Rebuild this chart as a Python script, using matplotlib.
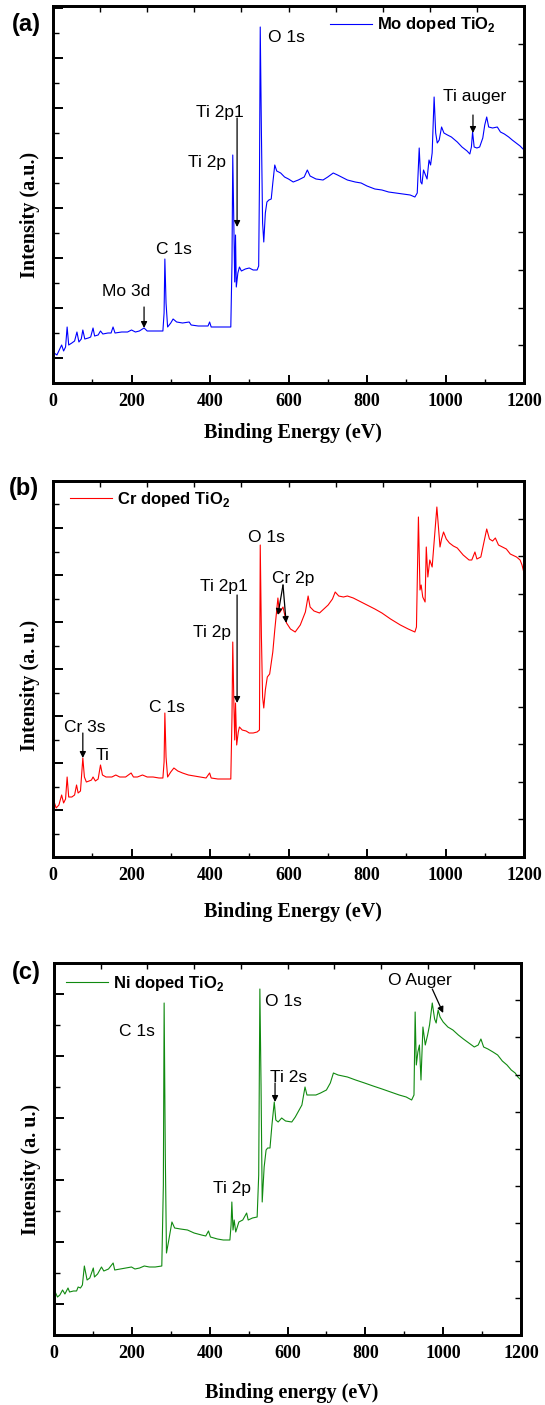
import matplotlib
matplotlib.use('Agg')
import matplotlib.pyplot as plt

plt.rcParams['mathtext.fontset'] = 'custom'
plt.rcParams['mathtext.rm'] = 'Liberation Sans'
plt.rcParams['mathtext.bf'] = 'Liberation Sans:bold'

# Survey spectra (binding energy in eV, intensity in a.u.)
mo_energy = [0, 3, 10, 16, 22, 27, 32, 36, 40, 48, 55, 61, 66, 72, 76, 81, 90, 96, 102, 106,
             115, 121, 127, 140, 148, 153, 158, 175, 190, 200, 210, 220, 232, 240, 255, 270, 280,
             283, 285, 288, 292, 300, 306, 315, 330, 347, 352, 370, 385, 395, 399, 403, 420, 440,
             453, 456, 458, 461, 463, 465, 467, 471, 475, 480, 490, 500, 510, 520, 524, 526, 528,
             531, 534, 537, 541, 545, 550, 556, 560, 565, 570, 580, 590, 600, 612, 625, 640, 648,
             655, 670, 688, 700, 714, 725, 740, 750, 770, 785, 800, 820, 838, 855, 873, 890, 910,
             922, 928, 933, 937, 940, 944, 949, 953, 958, 962, 966, 971, 975, 979, 984, 990, 996,
             1005, 1015, 1030, 1042, 1055, 1062, 1066, 1069, 1073, 1080, 1087, 1095, 1100, 1105,
             1110, 1120, 1132, 1140, 1150, 1161, 1170, 1180, 1190, 1200]
mo_counts = [33, 30, 28, 33, 38, 32, 36, 56, 38, 40, 42, 51, 41, 44, 53, 44, 45, 46, 55, 47,
             48, 52, 49, 50, 50, 56, 50, 51, 51, 53, 51, 52, 55, 52, 52, 52, 52,
             70, 124, 80, 56, 60, 64, 61, 60, 61, 58, 57, 57, 57, 61, 56, 56, 56,
             56, 120, 228, 150, 101, 148, 96, 110, 116, 112, 114, 115, 113, 113, 117, 200, 356,
             250, 160, 141, 170, 181, 183, 184, 200, 218, 212, 210, 206, 204, 201, 203, 206, 213,
             207, 204, 203, 206, 210, 208, 205, 203, 201, 200, 197, 194, 193, 191, 190, 189, 188,
             186, 190, 235, 201, 199, 213, 208, 204, 223, 218, 230, 286, 250, 240, 243, 256, 250,
             248, 246, 241, 236, 232, 229, 236, 251, 236, 235, 236, 245, 258, 266,
             256, 255, 256, 251, 249, 246, 243, 240, 237, 233]

cr_energy = [0, 3, 8, 15, 22, 27, 32, 36, 40, 48, 55, 60, 64, 70, 76, 80, 85, 92, 98, 102,
             108, 115, 121, 126, 135, 150, 160, 170, 185, 199, 205, 215, 228, 240, 255, 270, 280,
             283, 285, 288, 292, 300, 308, 318, 330, 345, 360, 375, 390, 399, 403, 420, 440, 453,
             456, 458, 461, 463, 465, 468, 472, 475, 482, 492, 500, 510, 520, 526, 528, 531, 534,
             537, 541, 546, 552, 560, 565, 573, 577, 586, 595, 605, 617, 630, 643, 650, 655, 665,
             679, 690, 701, 712, 719, 728, 740, 750, 765, 780, 800, 820, 838, 860, 885, 905, 922,
             926, 931, 935, 938, 942, 948, 951, 955, 960, 966, 972, 978, 982, 986, 990, 995, 1002,
             1010, 1020, 1030, 1045, 1060, 1067, 1075, 1080, 1090, 1098, 1105, 1112, 1120, 1127,
             1135, 1145, 1155, 1165, 1181, 1190, 1195, 1200]
cr_counts = [65, 55, 49, 52, 62, 54, 58, 80, 60, 60, 62, 72, 64, 66, 99, 80, 75, 76, 77, 80,
             76, 78, 92, 82, 80, 80, 82, 80, 80, 84, 80, 80, 82, 80, 80, 79, 79,
             95, 144, 100, 80, 85, 89, 86, 84, 82, 81, 80, 79, 84, 79, 78, 78, 78,
             140, 215, 150, 117, 154, 112, 125, 130, 127, 126, 124, 124, 125, 127, 312, 220, 160,
             149, 167, 180, 183, 205, 227, 259, 244, 250, 234, 228, 225, 232, 245, 261, 250, 246,
             244, 248, 252, 258, 265, 261, 260, 261, 259, 256, 252, 248, 244, 238, 232, 228, 225,
             230, 340, 267, 272, 260, 255, 310, 280, 297, 290, 320, 350, 330, 310, 318, 325, 318,
             314, 311, 309, 302, 297, 297, 305, 298, 300, 315, 328, 318, 316, 319,
             312, 310, 308, 303, 300, 297, 292, 284]

ni_energy = [3, 9, 15, 22, 28, 36, 40, 50, 58, 62, 68, 73, 78, 85, 92, 101, 104, 112, 122, 128,
             140, 152, 156, 170, 185, 199, 208, 220, 232, 245, 260, 277, 281, 283, 286, 289, 295,
             303, 310, 325, 343, 360, 379, 390, 397, 402, 420, 435, 446, 452, 455, 457, 460, 463,
             467, 475, 485, 495, 499, 510, 522, 526, 529, 532, 535, 540, 545, 549, 555, 560, 566,
             570, 576, 585, 595, 611, 620, 630, 637, 645, 650, 660, 673, 685, 700, 710, 718, 730,
             754, 775, 798, 820, 843, 865, 887, 905, 919, 925, 928, 931, 935, 939, 943, 948, 954,
             960, 965, 972, 978, 982, 987, 992, 1000, 1012, 1025, 1039, 1052, 1066, 1080, 1090,
             1097, 1104, 1115, 1128, 1140, 1152, 1164, 1175, 1185, 1192, 1200]
ni_counts = [43, 38, 40, 45, 41, 47, 43, 44, 44, 48, 47, 50, 69, 55, 57, 67, 58, 61, 68, 64,
             66, 72, 65, 66, 67, 68, 66, 67, 69, 68, 68, 69, 150, 332, 180, 82, 95,
             113, 107, 106, 105, 102, 100, 99, 104, 98, 96, 95, 95, 95, 110, 133, 105, 115,
             103, 113, 115, 122, 115, 117, 118, 160, 346, 250, 133, 168, 185, 187, 187, 210, 233,
             215, 213, 217, 214, 213, 218, 225, 230, 248, 240, 240, 240, 242, 245, 252, 262, 260,
             258, 255, 252, 249, 246, 243, 240, 238, 235, 240, 323, 270, 283, 290, 255, 308, 290,
             300, 310, 332, 316, 312, 325, 318, 313, 308, 305, 300, 296, 292, 288, 290,
             296, 288, 286, 283, 280, 274, 270, 265, 262, 258, 255]

xticks = [0, 200, 400, 600, 800, 1000, 1200]

serif = 'Liberation Serif'
sans = 'Liberation Sans'
ann_size = 12.5

fig = plt.figure(figsize=(5.45, 14.05), dpi=100)


def make_panel(rect, energy, counts, color, ymax, major, minor, label, xlabel, ylabel,
               leg_anchor, ylab_y, xlab_y, letter, letter_xy):
    ax = fig.add_axes(rect)
    ax.plot(energy, counts, color=color, lw=0.8, label=label)
    ax.set_xlim(0, 1200)
    ax.set_ylim(0, ymax)
    ax.set_xticks(xticks)
    ax.set_xticks(range(100, 1200, 200), minor=True)
    ax.set_yticks(major)
    ax.set_yticks(minor, minor=True)
    ax.set_yticklabels([])
    ax.tick_params(axis='x', which='major', direction='in', length=6, width=1.4, pad=7,
                   top=False)
    ax.tick_params(axis='x', which='minor', direction='in', length=3, width=1.0, top=False)
    ax.tick_params(axis='y', which='major', direction='in', length=7, width=1.4, right=False)
    ax.tick_params(axis='y', which='minor', direction='in', length=4, width=1.0, right=False)
    for lab in ax.get_xticklabels():
        lab.set_fontfamily(serif)
        lab.set_fontweight('bold')
        lab.set_fontsize(13)
    for sp in ax.spines.values():
        sp.set_linewidth(1.8)

    # right and top axes carry their own tick spacing
    axr = ax.twinx()
    axr.set_ylim(0, 10)
    axr.set_yticks(range(1, 10))
    axr.set_yticklabels([])
    axr.tick_params(direction='in', length=4, width=1.0)
    axt = ax.twiny()
    axt.set_xlim(0, 10)
    axt.set_xticks(range(1, 10))
    axt.set_xticklabels([])
    axt.tick_params(direction='in', length=4, width=1.0)
    for a in (axr, axt):
        for sp in a.spines.values():
            sp.set_linewidth(1.8)

    ax.set_xlabel(xlabel, fontfamily=serif, fontweight='bold', fontsize=14.5, va='top')
    ax.xaxis.set_label_coords(0.51, xlab_y)
    ax.set_ylabel(ylabel, fontfamily=serif, fontweight='bold', fontsize=14.5)
    ax.yaxis.set_label_coords(-0.028, ylab_y)

    ax.legend(loc='center left', bbox_to_anchor=leg_anchor, frameon=False, borderpad=0,
              borderaxespad=0, handlelength=2.5, handletextpad=0.3,
              prop={'family': sans, 'weight': 'bold', 'size': 12})
    fig.text(letter_xy[0], letter_xy[1], letter, fontfamily=sans, fontweight='bold',
             fontsize=17, ha='center', va='center')
    return ax


def note(ax, s, x, y):
    ax.text(x, y, s, fontfamily=sans, fontsize=ann_size, ha='center', va='center')


def arrow(ax, start, end):
    ax.annotate('', xy=end, xytext=start,
                arrowprops=dict(arrowstyle='-|>', color='k', lw=0.9, mutation_scale=9,
                                shrinkA=0, shrinkB=0))


# (a) Mo doped TiO2
axa = make_panel([53 / 545, 1 - 383 / 1405, 471 / 545, 377 / 1405], mo_energy, mo_counts,
                 '#0000ff', 377, range(25, 377, 50), range(50, 377, 50),
                 r'Mo doped TiO$_\mathbf{2}$', 'Binding Energy (eV)', 'Intensity (a.u.)',
                 (0.588, 0.95), 0.446, -0.106, '(a)', (26 / 545, 1 - 24 / 1405))
note(axa, 'O 1s', 594, 346)
note(axa, 'Ti 2p1', 425, 270)
note(axa, 'Ti 2p', 392, 220)
note(axa, 'C 1s', 308, 134)
note(axa, 'Mo 3d', 186, 91)
note(axa, 'Ti auger', 1073, 286)
arrow(axa, (469, 265), (469, 156))
arrow(axa, (232, 76), (232, 55))
arrow(axa, (1070, 268), (1070, 250))

# (b) Cr doped TiO2
axb = make_panel([53 / 545, 1 - 857 / 1405, 471 / 545, 376 / 1405], cr_energy, cr_counts,
                 '#ff0000', 376, [47 * k for k in range(1, 8)],
                 [23.5 + 47 * k for k in range(0, 8)],
                 r'Cr doped TiO$_\mathbf{2}$', 'Binding Energy (eV)', 'Intensity (a. u.)',
                 (0.036, 0.95), 0.457, -0.12, '(b)', (24 / 545, 1 - 488 / 1405))
note(axb, 'O 1s', 545, 320)
note(axb, 'Ti 2p1', 436, 270)
note(axb, 'Ti 2p', 405, 224)
note(axb, 'Cr 2p', 612, 279)
note(axb, 'C 1s', 290, 150)
note(axb, 'Cr 3s', 82, 130)
note(axb, 'Ti', 127, 102)
arrow(axb, (469, 262), (469, 154))
arrow(axb, (586, 272), (573, 242))
arrow(axb, (586, 272), (594, 234))
arrow(axb, (76, 124), (76, 99))

# (c) Ni doped TiO2
axc = make_panel([54 / 545, 1 - 1335 / 1405, 467 / 545, 372 / 1405], ni_energy, ni_counts,
                 '#108a10', 372, [31 + 62 * k for k in range(0, 6)],
                 [62 * k for k in range(1, 6)],
                 r'Ni doped TiO$_\mathbf{2}$', 'Binding energy (eV)', 'Intensity (a. u.)',
                 (0.026, 0.945), 0.444, -0.129, '(c)', (26 / 545, 1 - 973 / 1405))
note(axc, 'C 1s', 214, 303)
note(axc, 'O 1s', 589, 334)
note(axc, 'Ti 2s', 602, 258)
note(axc, 'O Auger', 939, 355)
note(axc, 'Ti 2p', 458, 146)
arrow(axc, (568, 252), (568, 233))
arrow(axc, (972, 346), (1000, 322))

fig.savefig('out.png', dpi=100)
